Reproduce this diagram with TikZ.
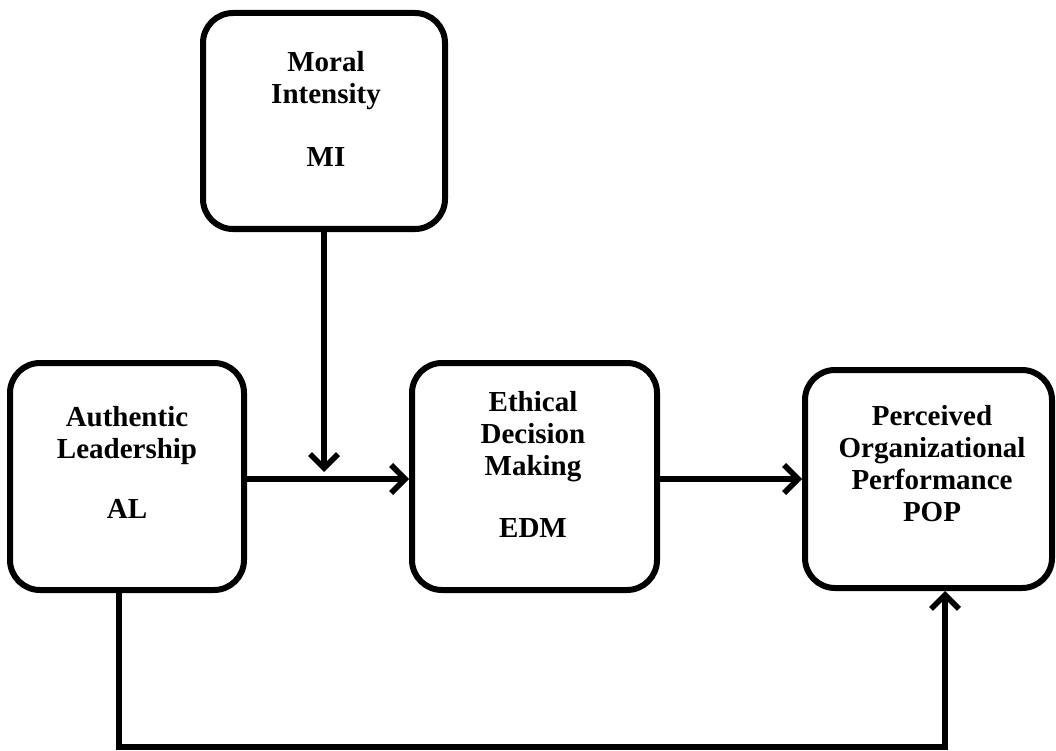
\documentclass[tikz,border=0pt]{standalone}
\usepackage{fontspec}
\setmainfont{Liberation Serif}
\usetikzlibrary{arrows.meta}
\tikzset{
  boxnode/.style={draw=black, line width=6pt, rounded corners=30pt, inner sep=0pt},
  lbl/.style={align=center, font=\fontsize{29}{32}\selectfont\bfseries, inner sep=0pt, anchor=north},
  arr/.style={line width=5.5pt, -{Straight Barb[length=14pt,width=28pt]}},
  conn/.style={line width=5.5pt}
}
\begin{document}
\begin{tikzpicture}[x=1pt,y=-1pt]
\useasboundingbox (0,0) rectangle (1056,751);
% boxes
\node[boxnode, minimum width=242pt, minimum height=216pt] (mi) at (324,121) {};
\node[boxnode, minimum width=234pt, minimum height=227pt] (al) at (127,476.5) {};
\node[boxnode, minimum width=245pt, minimum height=227pt] (edm) at (534.5,476.5) {};
\node[boxnode, minimum width=247pt, minimum height=218pt] (pop) at (928.5,479) {};
% labels
\node[lbl] (miT) at (326,51) {Moral\\Intensity\\[31pt]MI};
\node[lbl] (alT) at (127,406) {Authentic\\Leadership\\[28pt]AL};
\node[lbl] (edmT) at (533,391) {Ethical\\Decision\\Making\\[30pt]EDM};
\node[lbl] (popT) at (932,405) {Perceived\\Organizational\\Performance\\POP};
% connectors
\coordinate (join) at (324,472);
\draw[arr] (mi) -- (join);
\coordinate (h1) at (0,479);
\draw[arr] (al.east |- h1) -- (edm.west |- h1);
\draw[arr] (edm.east |- h1) -- (pop.west |- h1);
\coordinate (c1) at (119,747);
\coordinate (c2) at (945,747);
\draw[arr] (al.south -| c1) -- (c1) -- (c2) -- (c2 |- pop.south);
\end{tikzpicture}
\end{document}
